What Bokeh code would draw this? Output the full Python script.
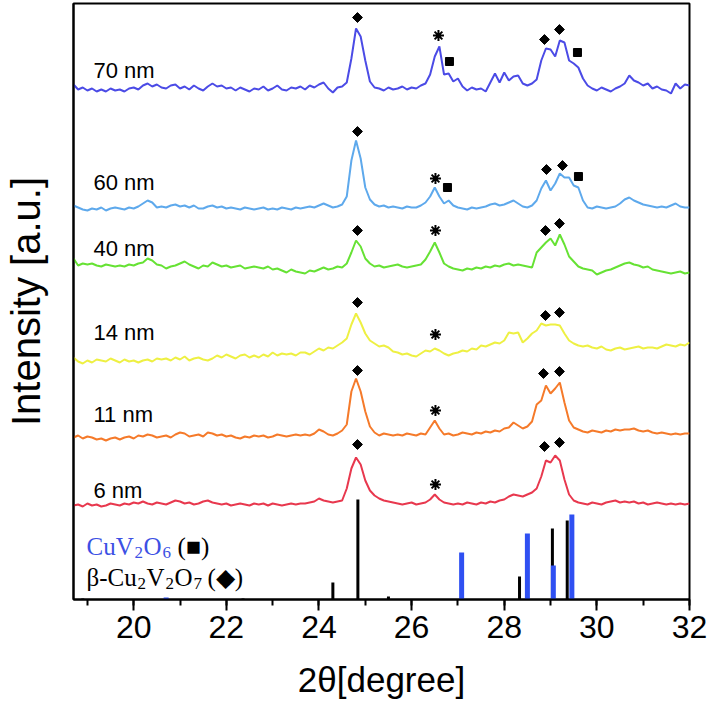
import numpy as np
from bokeh.plotting import figure
from bokeh.models import Range1d, Label, SingleIntervalTicker, FixedTicker
from bokeh.embed import file_html
from bokeh.resources import INLINE

# ---------------- data ----------------
two_theta = np.round(np.arange(18.7, 32.0001, 0.1), 1)  # degrees, 134 points

labels = ["70 nm", "60 nm", "40 nm", "14 nm", "11 nm", "6 nm"]

i_70nm = [4, -1, 1, -2, 0, -3, -1, -3, 0, -2,
          -1, -3, 0, 1, -1, 3, 5, 2, 4, 1,
          0, 3, 4, 0, 2, -1, 3, 0, -2, 2,
          5, 2, 3, 0, 1, -2, 1, -1, -3, 0,
          -1, 2, -2, 0, 3, -1, -2, 1, 0, 2,
          -1, 3, 1, 4, 6, 0, -4, 1, 2, 6,
          30, 60, 52, 28, 7, 1, 0, -2, 1, -1,
          0, 2, -1, 1, 0, 3, 5, 14, 32, 42,
          14, 15, 7, 10, 2, -2, 1, -1, 0, -3,
          6, 15, 6, 16, 8, 12, 13, 5, 3, 5,
          9, 28, 40, 39, 32, 48, 46, 28, 25, 21,
          10, 3, 0, -2, 1, -1, -3, 0, 2, 5,
          13, 8, 6, 3, 5, 0, 2, -1, -2, -5,
          5, 0, 4, 3]

i_60nm = [3, 1, -1, -2, 0, -1, 1, -2, 0, 1,
          0, -1, 1, 0, 2, 5, 8, 6, 1, 2,
          1, 3, 4, 2, 3, 1, 3, 0, 0, 2,
          3, 1, 2, 0, 1, 0, -1, 1, 0, -1,
          0, 1, -1, 0, -1, 1, 0, -1, 1, 0,
          1, 2, 1, 3, 5, 3, 1, 2, 4, 12,
          48, 68, 50, 21, 9, 4, 2, 3, 1, 2,
          1, 0, 2, 1, 1, 3, 6, 12, 21, 12,
          5, 8, 3, 1, 0, -1, 1, 0, 1, 2,
          4, 5, 3, 4, 6, 8, 5, 2, 1, 3,
          8, 20, 28, 18, 25, 35, 31, 31, 23, 21,
          8, 1, 0, 2, 1, 0, 1, 2, 5, 9,
          11, 8, 6, 4, 3, 2, 1, 2, 1, 3,
          5, 2, 1, 1]

i_40nm = [8, 1, 3, 2, 3, 1, 0, 2, 1, 0,
          1, 0, 2, 1, 3, 4, 8, 6, 2, 1,
          -2, 0, 1, 3, 5, 2, 0, -2, 1, 0,
          4, 2, 0, 1, -1, 0, 1, -2, -1, 0,
          -1, -2, 0, -3, -2, -4, -6, -3, -5, -6,
          -7, -4, -5, -3, -1, -3, -2, 0, -1, 3,
          14, 26, 20, 8, 3, 0, 1, -1, 0, 1,
          2, 0, -1, 0, 1, 2, 7, 15, 24, 14,
          3, 0, -2, -3, -4, -2, -3, -1, -2, 0,
          -1, 1, 0, 2, 3, 1, 2, 1, 0, -1,
          14, 19, 24, 28, 21, 32, 22, 10, 5, 0,
          -2, -3, -4, -8, -6, -4, -3, -1, 1, 3,
          4, 2, 1, -1, 0, -3, -4, -5, -6, -7,
          -6, -5, -7, -6]

i_14nm = [3, -1, -3, 0, -2, 1, 0, -1, 2, 0,
          -2, 1, -1, 0, -2, 0, 1, -1, 2, 1,
          2, 0, 3, 1, 4, 0, 2, 3, 1, 0,
          2, 5, 3, 6, 4, 2, 5, 6, 3, 5,
          3, 6, 4, 8, 5, 7, 6, 7, 5, 8,
          8, 6, 9, 12, 10, 13, 12, 15, 18, 22,
          36, 47, 38, 27, 20, 17, 14, 15, 13, 9,
          8, 6, 7, 5, 4, 7, 10, 9, 12, 10,
          7, 5, 7, 8, 10, 9, 12, 11, 15, 14,
          16, 18, 17, 20, 28, 27, 28, 18, 22, 27,
          30, 37, 35, 36, 36, 35, 27, 20, 17, 15,
          14, 15, 13, 12, 14, 11, 10, 12, 13, 11,
          12, 13, 14, 12, 13, 13, 12, 14, 16, 15,
          14, 16, 15, 18]

i_11nm = [-1, 1, -2, 0, -1, -3, -2, -4, -2, -1,
          -3, -1, 0, -2, 1, 0, 2, 1, -1, 0,
          1, -1, 2, 4, 3, 0, 1, 2, 0, 4,
          3, 1, 2, 0, 1, -1, -2, 0, -1, 1,
          0, 1, -1, 0, 2, 1, 0, 1, 2, 1,
          2, 1, 3, 7, 5, 2, 1, 3, 6, 12,
          45, 58, 45, 25, 10, 4, 1, 3, 2, 1,
          2, 1, 3, 2, 1, 3, 2, 9, 16, 8,
          2, 3, 1, 2, 4, 3, 2, 4, 3, 5,
          4, 6, 5, 8, 9, 14, 11, 8, 10, 15,
          32, 36, 51, 43, 48, 54, 34, 16, 9, 7,
          5, 4, 6, 5, 4, 6, 5, 7, 6, 7,
          7, 8, 6, 5, 6, 4, 3, 4, 3, 2,
          3, 2, 3, 3]

i_6nm = [-1, 0, -2, 1, -1, 0, -2, -1, 1, 0,
         -1, 1, 0, 2, 1, 3, 1, 0, 2, 1,
         0, 2, 4, 3, 1, 2, 0, 1, 3, 4,
         2, 1, 0, 1, -1, 0, 1, 0, -1, 1,
         0, 1, -1, 1, 0, -1, 0, 1, 0, 1,
         1, 2, 3, 6, 4, 3, 2, 3, 4, 16,
         36, 47, 40, 24, 14, 9, 6, 4, 3, 2,
         1, 0, 1, 2, 0, 1, 2, 5, 10, 5,
         2, 1, 0, 1, 0, 2, 1, 0, 2, 1,
         3, 2, 4, 5, 8, 10, 9, 8, 10, 12,
         16, 28, 44, 42, 49, 44, 25, 10, 4, 2,
         1, 0, 2, 1, 0, 2, 3, 4, 2, 3,
         2, 3, 1, 2, 0, 1, 2, 1, 0, 1,
         0, 1, 0, 1]

series = [i_70nm, i_60nm, i_40nm, i_14nm, i_11nm, i_6nm]

# reference patterns (stick positions and relative intensities)
cu2v2o7_pos = [18.9, 22.36, 24.30, 24.84, 25.5, 28.33, 29.04, 29.36]
cu2v2o7_int = [1, 1, 17, 100, 3, 23, 71, 79]
cuv2o6_pos = [20.7, 27.08, 28.50, 29.06, 29.46]
cuv2o6_int = [2, 47, 66, 34, 85]

x_ticks_interval = 2

# ---------------- layout / style ----------------
offsets = [511, 391, 333, 239, 163, 95]
colors = ["#4B4BE6", "#5EA9EC", "#66E234", "#EEF043", "#F57A2A", "#E8384E"]

X0, X1 = 18.7, 32.0
PX_LEFT, PX_PER_DEG, PX_BOTTOM = 73, 46.32, 599


def px_x(px):
    return X0 + (px - PX_LEFT) / PX_PER_DEG


def px_y(py):
    return PX_BOTTOM - py


p = figure(width=708, height=702, x_range=Range1d(X0, X1), y_range=Range1d(0, 596),
           output_backend="svg", toolbar_location=None,
           min_border_left=73, min_border_right=19, min_border_top=3, min_border_bottom=103)
p.xgrid.visible = False
p.ygrid.visible = False
p.outline_line_color = "black"
p.outline_line_width = 2
p.outline_line_alpha = 1.0
p.background_fill_color = "white"
p.border_fill_color = "white"

xa = p.xaxis[0]
xa.ticker = SingleIntervalTicker(interval=x_ticks_interval, num_minor_ticks=2)
xa.axis_line_width = 2
xa.axis_line_color = "black"
xa.major_tick_line_width = 2
xa.minor_tick_line_width = 2
xa.major_tick_line_color = "black"
xa.minor_tick_line_color = "black"
xa.major_tick_out = 11
xa.major_tick_in = 0
xa.minor_tick_out = 6
xa.minor_tick_in = 0
xa.major_label_text_font = "Liberation Sans"
xa.major_label_text_font_size = "32px"
xa.major_label_text_color = "black"
xa.major_label_standoff = 5
xa.axis_label = "2\u03B8[degree]"
xa.axis_label_text_font = "Liberation Sans"
xa.axis_label_text_font_size = "35px"
xa.axis_label_text_font_style = "normal"
xa.axis_label_text_color = "black"
xa.axis_label_standoff = 19

ya = p.yaxis[0]
ya.ticker = FixedTicker(ticks=[])
ya.axis_line_width = 2
ya.axis_line_color = "black"
ya.major_label_text_font_size = "0px"
ya.major_tick_line_color = None
ya.minor_tick_line_color = None
ya.axis_label = "Intensity [a.u.]"
ya.axis_label_text_font = "Liberation Sans"
ya.axis_label_text_font_size = "40px"
ya.axis_label_text_font_style = "normal"
ya.axis_label_text_color = "black"
ya.axis_label_standoff = 26

# reference sticks
p.segment(x0=cu2v2o7_pos, y0=[0] * len(cu2v2o7_pos), x1=cu2v2o7_pos, y1=cu2v2o7_int,
          line_width=3, line_color="black", line_cap="butt")
p.segment(x0=cuv2o6_pos, y0=[0] * len(cuv2o6_pos), x1=cuv2o6_pos, y1=cuv2o6_int,
          line_width=5, line_color="#2F50F2", line_cap="butt")

# XRD curves
for vals, off, col in zip(series, offsets, colors):
    p.line(two_theta, np.array(vals) + off, line_width=2, line_color=col)

# curve labels
label_baselines = [70, 182, 248, 332, 414, 490]
for txt, by in zip(labels, label_baselines):
    p.add_layout(Label(x=px_x(93), y=px_y(by), text=txt, text_font="Liberation Sans",
                       text_font_size="22px", text_color="black", text_baseline="alphabetic"))

# peak markers (annotation positions in image pixels)
diamonds = [(357, 17), (544, 39), (559, 29), (357, 131), (546, 169), (562, 165),
            (357, 230), (545, 230), (559, 223), (357, 302), (545, 315), (559, 312),
            (357, 370), (543, 373), (559, 371), (357, 444), (544, 446), (559, 442)]
asterisks = [(438, 35), (435, 178), (435, 230), (435, 334), (435, 410), (435, 484)]
squares = [(449, 61), (577, 52), (447, 187), (578, 176)]

p.scatter([px_x(a) for a, b in diamonds], [px_y(b) for a, b in diamonds],
          marker="square", angle=np.pi / 4, size=7, color="black")
p.scatter([px_x(a) for a, b in squares], [px_y(b) for a, b in squares],
          marker="square", size=8, color="black")
p.scatter([px_x(a) for a, b in asterisks], [px_y(b) for a, b in asterisks],
          marker="asterisk", size=11, line_width=2, line_color="black")

# legend texts with subscripts
blue_txt = "#3C50E4"
pieces = [
    ("CuV", 86, 546, "25px", blue_txt), ("2", 134, 552, "17px", blue_txt),
    ("O", 143, 546, "25px", blue_txt), ("6", 162, 552, "17px", blue_txt),
    ("(\u25A0)", 177, 546, "25px", "black"),
    ("\u03B2-Cu", 86, 577, "25px", "black"), ("2", 137, 583, "17px", "black"),
    ("V", 146, 577, "25px", "black"), ("2", 165, 583, "17px", "black"),
    ("O", 174, 577, "25px", "black"), ("7", 193, 583, "17px", "black"),
    ("(\u25C6)", 207, 577, "25px", "black"),
]
for txt, lx, by, fs, col in pieces:
    p.add_layout(Label(x=px_x(lx), y=px_y(by), text=txt, text_font="Liberation Serif",
                       text_font_size=fs, text_color=col, text_baseline="alphabetic"))

open("out.html", "w").write(file_html(p, INLINE))
